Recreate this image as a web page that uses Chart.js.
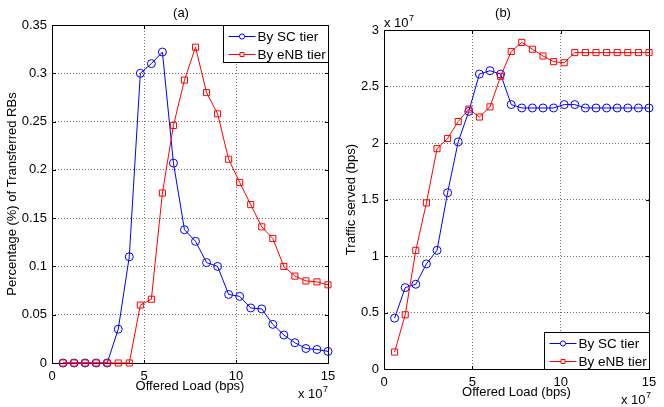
<!DOCTYPE html>
<html><head><meta charset="utf-8">
<script src="https://cdn.jsdelivr.net/npm/chart.js@4.4.0/dist/chart.umd.min.js"></script>
<style>
html,body{margin:0;padding:0;background:#fff;}
#wrap{position:relative;width:664px;height:407px;overflow:hidden;}
canvas{position:absolute;left:0;top:0;}
</style></head><body>
<div id="wrap">
<canvas id="ca" width="664" height="407" style="width:664px;height:407px"></canvas>
<canvas id="cb" width="664" height="407" style="width:664px;height:407px"></canvas>
</div>
<script>
// Offered load (x 10^7 bps)
const offeredLoad = [0.6,1.2,1.8,2.4,3.0,3.6,4.2,4.8,5.4,6.0,6.6,7.2,7.8,8.4,9.0,9.6,10.2,10.8,11.4,12.0,12.6,13.2,13.8,14.4,15.0];
// (a) Percentage of transferred RBs
const scShareA  = [0,0,0,0,0,0.035,0.110,0.300,0.310,0.322,0.207,0.138,0.126,0.104,0.100,0.071,0.069,0.057,0.056,0.040,0.029,0.021,0.015,0.014,0.012];
const enbShareA = [0,0,0,0,0,0,0,0.060,0.066,0.176,0.246,0.293,0.327,0.280,0.258,0.211,0.187,0.164,0.141,0.129,0.100,0.090,0.085,0.084,0.081];
// (b) Traffic served (x 10^7 bps)
const scTrafficB  = [0.45,0.72,0.75,0.93,1.05,1.56,2.01,2.28,2.61,2.64,2.61,2.34,2.31,2.31,2.31,2.31,2.34,2.34,2.31,2.31,2.31,2.31,2.31,2.31,2.31];
const enbTrafficB = [0.15,0.48,1.05,1.47,1.95,2.04,2.19,2.30,2.23,2.32,2.59,2.81,2.89,2.83,2.77,2.72,2.71,2.80,2.80,2.80,2.80,2.80,2.80,2.80,2.80];
// Tick labels
const xTicks  = [0,5,10,15];
const yTicksA = [0,0.05,0.1,0.15,0.2,0.25,0.3,0.35];
const yTicksB = [0,0.5,1,1.5,2,2.5,3];
const seriesNames = ['By SC tier','By eNB tier'];

const FONT = '"Liberation Sans", Arial, Helvetica, sans-serif';
const BLUE = '#0000ff', RED = '#ff0000';

function pts(ys){ return offeredLoad.map((x,i)=>({x:x,y:ys[i]})); }

function ds(label, data, color, style, order){
  return {label, data:pts(data), borderColor:color, backgroundColor:'rgba(0,0,0,0)',
    borderWidth:1, pointStyle:style, pointRadius: style==='rect'?4.3:4, pointBorderWidth:1,
    pointBackgroundColor:'rgba(0,0,0,0)', pointBorderColor:color, tension:0, clip:false, order};
}

function decor(cfg){
  return {
    id:'decor',
    beforeDatasetsDraw(chart){
      const {ctx, chartArea:a} = chart;
      const xs = chart.scales.x, ys = chart.scales.y;
      ctx.save();
      ctx.strokeStyle = '#000'; ctx.lineWidth = 1;
      const L=a.left+0.5, R=a.right+0.5, T=a.top+0.5, B=a.bottom+0.5;
      ctx.beginPath();
      const tl = 3.5;
      xs.ticks.forEach(t=>{
        const px = Math.round(xs.getPixelForValue(t.value))+0.5;
        ctx.moveTo(px,B); ctx.lineTo(px,B-tl);
        ctx.moveTo(px,T); ctx.lineTo(px,T+tl);
      });
      ys.ticks.forEach(t=>{
        const py = Math.round(ys.getPixelForValue(t.value))+0.5;
        ctx.moveTo(L,py); ctx.lineTo(L+tl,py);
        ctx.moveTo(R,py); ctx.lineTo(R-tl,py);
      });
      ctx.stroke();
      ctx.strokeRect(L,T,R-L,B-T);
      ctx.restore();
    },
    afterDraw(chart){
      const {ctx, chartArea:a} = chart;
      ctx.save();
      ctx.fillStyle = '#000';
      ctx.textBaseline = 'alphabetic';
      // subplot title
      ctx.font = '13px '+FONT; ctx.textAlign='center';
      ctx.fillText(cfg.title, cfg.titleX, 17);
      // exponent labels
      cfg.exps.forEach(e=>{
        ctx.font = '13px '+FONT; ctx.textAlign='left';
        ctx.fillText('x 10', e.x, e.y);
        const w = ctx.measureText('x 10').width;
        ctx.font = '9px '+FONT;
        ctx.fillText('7', e.x+w+0.5, e.y-6);
      });
      // legend
      const W=105, H=37;
      const lx = a.right - W + 0.5;
      const ly = (cfg.legendPos==='top' ? a.top : a.bottom - H) + 0.5;
      ctx.fillStyle='#fff';
      ctx.fillRect(lx,ly,W,H);
      ctx.strokeStyle='#000'; ctx.lineWidth=1;
      ctx.strokeRect(lx,ly,W,H);
      const items = [[seriesNames[0],BLUE,'circle'],[seriesNames[1],RED,'rect']];
      items.forEach((it,i)=>{
        const y = Math.round(ly + 10 + i*18)+0.5;
        ctx.strokeStyle = it[1]; ctx.lineWidth = 1;
        ctx.beginPath(); ctx.moveTo(lx+5,y); ctx.lineTo(lx+32,y); ctx.stroke();
        ctx.beginPath();
        if(it[2]==='circle'){ ctx.arc(lx+18.5,y,2.6,0,Math.PI*2); }
        else { ctx.rect(lx+16.5,y-2,4,4); }
        ctx.fillStyle='#fff'; ctx.fill(); ctx.stroke();
        ctx.fillStyle='#000'; ctx.font='13.5px '+FONT; ctx.textAlign='left'; ctx.textBaseline='middle';
        ctx.fillText(it[0], lx+34, y+0.5);
      });
      ctx.restore();
    }
  };
}

function axisOpts(kind, tickVals, min, max, fit, titleText, titlePad, tickPad, fmt){
  return {
    type:'linear', min, max,
    afterBuildTicks(s){ s.ticks = tickVals.map(v=>({value:v})); },
    afterFit(s){
      if(kind==='x'){ s.height = fit; } else { s.width = fit; }
      s.paddingLeft=0; s.paddingRight=0; s.paddingTop=0; s.paddingBottom=0;
    },
    grid:{ color:'rgba(0,0,0,0.55)', lineWidth:1, drawTicks:false },
    border:{ display:false, dash:[1,2] },
    ticks:{ color:'#000', font:{family:FONT,size:13}, padding:tickPad, maxRotation:0, autoSkip:false,
      callback:(v)=>fmt(v) },
    title:{ display:true, text:titleText, color:'#000', font:{family:FONT,size:13}, padding:titlePad }
  };
}

function fmtA(v){ return String(+v.toFixed(2)); }

// Left chart (a): area 52..328 x 25..363
new Chart(document.getElementById('ca'), {
  type:'line',
  data:{ datasets:[ ds(seriesNames[0], scShareA, BLUE, 'circle', 1), ds(seriesNames[1], enbShareA, RED, 'rect', 0) ] },
  options:{
    responsive:false, animation:false, devicePixelRatio:1,
    layout:{ padding:{ left:0, right:664-328, top:25, bottom:0 } },
    plugins:{ legend:{display:false}, tooltip:{enabled:false}, title:{display:false} },
    scales:{
      x: axisOpts('x', xTicks, 0, 15, 407-363, 'Offered Load (bps)', {top:0,bottom:13}, 6, fmtA),
      y: axisOpts('y', yTicksA, 0, 0.35, 52, 'Percentage (%) of Transferred RBs', {top:5,bottom:0}, 5, fmtA)
    }
  },
  plugins:[ decor({ title:'(a)', titleX:181, legendPos:'top', exps:[{x:298, y:398}] }) ]
});

// Right chart (b): area 384..649 x 30..369
new Chart(document.getElementById('cb'), {
  type:'line',
  data:{ datasets:[ ds(seriesNames[0], scTrafficB, BLUE, 'circle', 1), ds(seriesNames[1], enbTrafficB, RED, 'rect', 0) ] },
  options:{
    responsive:false, animation:false, devicePixelRatio:1,
    layout:{ padding:{ left:332, right:664-649, top:30, bottom:0 } },
    plugins:{ legend:{display:false}, tooltip:{enabled:false}, title:{display:false} },
    scales:{
      x: axisOpts('x', xTicks, 0, 15, 407-369, 'Offered Load (bps)', {top:0,bottom:7}, 6, fmtA),
      y: axisOpts('y', yTicksB, 0, 3, 52, 'Traffic served (bps)', {top:12,bottom:0}, 5, fmtA)
    }
  },
  plugins:[ decor({ title:'(b)', titleX:503, legendPos:'bottom', exps:[{x:384, y:27},{x:621, y:404}] }) ]
});
</script>
</body></html>
